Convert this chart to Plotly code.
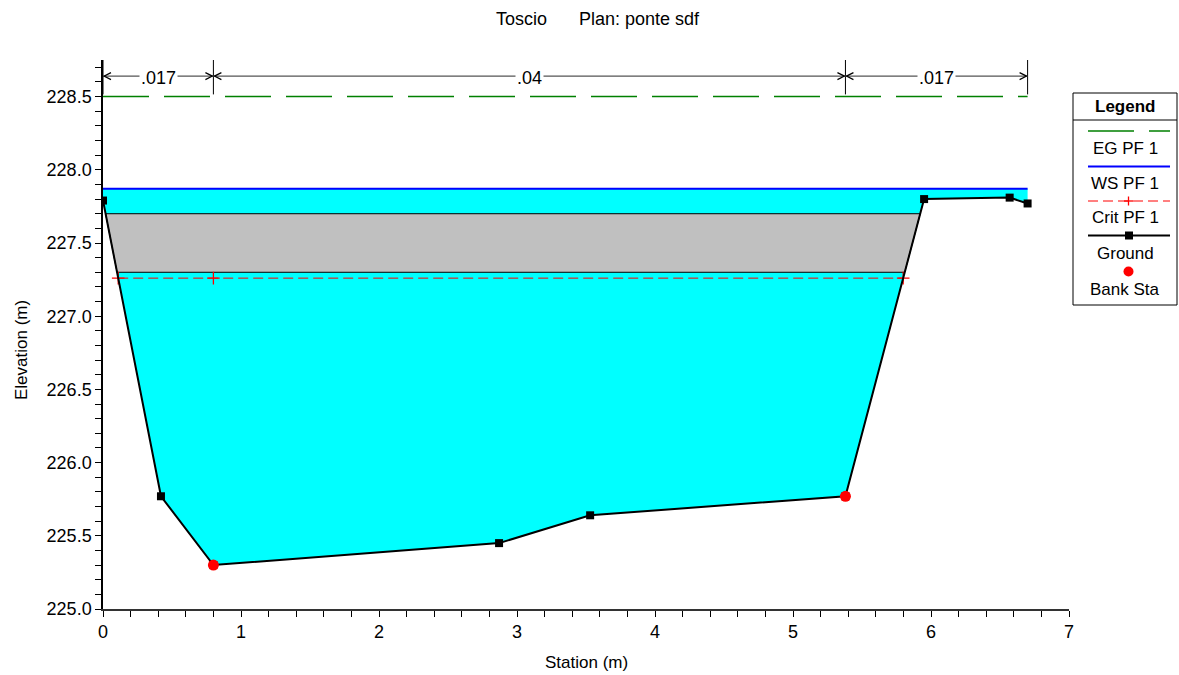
import numpy as np
import plotly.graph_objects as go

# ---------------- data ----------------
station = [0.0, 0.42, 0.80, 2.87, 3.53, 5.38, 5.95, 6.57, 6.70]
elev = [227.79, 225.77, 225.30, 225.45, 225.64, 225.77, 227.80, 227.81, 227.77]
bank_sta = [0.80, 5.38]
bank_elev = [225.30, 225.77]
ws_elev = 227.87
eg_elev = 228.50
crit_elev = 227.26
deck_high = 227.70
deck_low = 227.30
n_sta = [0.0, 0.80, 5.38, 6.70]
n_val = [".017", ".04", ".017"]

FONT = "Liberation Sans, Arial, sans-serif"

# plot area in pixels
W, H = 1179, 675
PL, PR, PT, PB = 103, 1069, 60, 609


def px(x):
    return (x - PL) / (PR - PL)


def py(y):
    return (PB - y) / (PB - PT)


def crossings(h):
    xs = []
    for i in range(len(station) - 1):
        x0, x1 = station[i], station[i + 1]
        y0, y1 = elev[i], elev[i + 1]
        if (y0 - h) * (y1 - h) < 0:
            xs.append(x0 + (h - y0) / (y1 - y0) * (x1 - x0))
    return xs


fig = go.Figure()

# water area
wx = [station[0]] + station + [station[-1], station[0]]
wy = [ws_elev] + elev + [ws_elev, ws_elev]
fig.add_trace(go.Scatter(x=wx, y=wy, fill="toself", fillcolor="#00FFFF",
                         line=dict(width=0), mode="lines", hoverinfo="skip"))

# deck (gray)
ch = crossings(deck_high)
cl = crossings(deck_low)
dx = [ch[0], ch[-1], cl[-1], cl[0], ch[0]]
dy = [deck_high, deck_high, deck_low, deck_low, deck_high]
fig.add_trace(go.Scatter(x=dx, y=dy, fill="toself", fillcolor="#C0C0C0",
                         line=dict(width=1, color="black"), mode="lines",
                         hoverinfo="skip"))

# crit
cc = crossings(crit_elev)
crit_x = [cc[0], bank_sta[0], cc[-1]]
fig.add_trace(go.Scatter(x=crit_x, y=[crit_elev] * len(crit_x), mode="lines",
                         line=dict(color="red", width=1, dash="10px,5px")))
fig.add_trace(go.Scatter(x=crit_x, y=[crit_elev] * len(crit_x), mode="markers",
                         marker=dict(symbol="cross-thin", size=9,
                                     line=dict(color="red", width=1.3))))

# WS
fig.add_trace(go.Scatter(x=[station[0], station[-1]], y=[ws_elev, ws_elev],
                         mode="lines", line=dict(color="#0000FF", width=2)))
# EG
fig.add_trace(go.Scatter(x=[station[0], station[-1]], y=[eg_elev, eg_elev],
                         mode="lines", line=dict(color="#008000", width=1.5,
                                                 dash="46px,15px")))
# ground
fig.add_trace(go.Scatter(x=station, y=elev, mode="lines+markers",
                         line=dict(color="black", width=2),
                         marker=dict(symbol="square", size=8, color="black")))
# bank stations
fig.add_trace(go.Scatter(x=bank_sta, y=bank_elev, mode="markers",
                         marker=dict(symbol="circle", size=11, color="red")))

shapes = []
annotations = []

# Manning's n dimension lines
y_top = 228.75
y_bot = 228.515
y_line = 228.64
for s in n_sta:
    shapes.append(dict(type="line", xref="x", yref="y", x0=s, x1=s,
                       y0=y_bot, y1=y_top, line=dict(color="black", width=1)))
for i, v in enumerate(n_val):
    a, b = n_sta[i], n_sta[i + 1]
    shapes.append(dict(type="line", xref="x", yref="y", x0=a, x1=b,
                       y0=y_line, y1=y_line, line=dict(color="#555555", width=1.2)))
    shapes.append(dict(type="path", xref="x", yref="y", xsizemode="pixel",
                       ysizemode="pixel", xanchor=a, yanchor=y_line,
                       path="M 8,3.5 L 1,0 L 8,-3.5",
                       line=dict(color="black", width=1.2)))
    shapes.append(dict(type="path", xref="x", yref="y", xsizemode="pixel",
                       ysizemode="pixel", xanchor=b, yanchor=y_line,
                       path="M -8,3.5 L -1,0 L -8,-3.5",
                       line=dict(color="black", width=1.2)))
    annotations.append(dict(x=(a + b) / 2, y=y_line, xref="x", yref="y",
                            xanchor="center", yanchor="middle",
                            text=v, showarrow=False, bgcolor="white",
                            borderpad=1, yshift=-2,
                            font=dict(family=FONT, size=18, color="black")))


def txt(x, y, text, size=18, angle=0):
    annotations.append(dict(x=px(x), y=py(y), xref="paper", yref="paper",
                            xanchor="center", yanchor="middle",
                            text=text, showarrow=False, textangle=angle,
                            font=dict(family=FONT, size=size, color="black")))


# Title
txt(521, 19, "Toscio", 18)
txt(639, 19, "Plan: ponte sdf", 18)
# axis titles
txt(586, 662, "Station (m)", 17)
txt(21, 350, "Elevation (m)", 17, -90)

# Legend (custom)
LX0, LX1, LY0, LY1 = 1073, 1177, 93, 305
LC = (LX0 + LX1) / 2
shapes.append(dict(type="rect", xref="paper", yref="paper", x0=px(LX0), x1=px(LX1),
                   y0=py(LY1), y1=py(LY0), line=dict(color="black", width=1),
                   fillcolor="white", layer="below"))
shapes.append(dict(type="line", xref="paper", yref="paper", x0=px(LX0), x1=px(LX1),
                   y0=py(120), y1=py(120), line=dict(color="black", width=1)))
txt(LC, 106, "<b>Legend</b>", 17)
SX0, SX1 = 1088, 1170
leg_items = [
    ("EG PF 1", 131, 148, dict(color="#008000", width=1.5, dash="46px,15px")),
    ("WS PF 1", 166.5, 183, dict(color="#0000FF", width=2)),
    ("Crit PF 1", 201, 218, dict(color="red", width=1, dash="10px,5px")),
    ("Ground", 235.5, 253, dict(color="black", width=2)),
    ("Bank Sta", None, 289, None),
]
for name, ly, ty, ln in leg_items:
    if ln is not None:
        shapes.append(dict(type="line", xref="paper", yref="paper",
                           x0=px(SX0), x1=px(SX1), y0=py(ly), y1=py(ly), line=ln))
    txt(LC, ty, name, 17)
# legend markers
shapes.append(dict(type="line", xref="paper", yref="paper", x0=px(1124), x1=px(1133),
                   y0=py(201), y1=py(201), line=dict(color="red", width=1.3)))
shapes.append(dict(type="line", xref="paper", yref="paper", x0=px(1128.5), x1=px(1128.5),
                   y0=py(196.5), y1=py(205.5), line=dict(color="red", width=1.3)))
shapes.append(dict(type="rect", xref="paper", yref="paper", x0=px(1125), x1=px(1133),
                   y0=py(239.5), y1=py(231.5), fillcolor="black", line=dict(width=0)))
shapes.append(dict(type="circle", xref="paper", yref="paper", x0=px(1123.5), x1=px(1133.5),
                   y0=py(276.5), y1=py(266.5), fillcolor="red", line=dict(width=0)))

fig.update_layout(
    width=W, height=H,
    margin=dict(l=PL, r=W - PR, t=PT, b=H - PB),
    paper_bgcolor="white", plot_bgcolor="white",
    showlegend=False,
    shapes=shapes, annotations=annotations,
    font=dict(family=FONT, size=18, color="black"),
    xaxis=dict(range=[0, 7], dtick=1, tick0=0, showgrid=False, zeroline=False,
               showline=True, linecolor="#333333", linewidth=1.5,
               ticks="outside", ticklen=6, tickcolor="black", tickwidth=1,
               tickfont=dict(family=FONT, size=18, color="black"),
               minor=dict(dtick=0.2, ticks="outside", ticklen=6, tickcolor="black",
                          showgrid=False)),
    yaxis=dict(range=[225, 228.75], dtick=0.5, tick0=225, tickformat=".1f",
               showgrid=False, zeroline=False,
               showline=True, linecolor="black", linewidth=1.5,
               ticks="outside", ticklen=6, tickcolor="black", tickwidth=1,
               tickfont=dict(family=FONT, size=18, color="black"),
               minor=dict(dtick=0.1, ticks="outside", ticklen=6, tickcolor="black",
                          showgrid=False)),
)

fig.write_html("out.html")
